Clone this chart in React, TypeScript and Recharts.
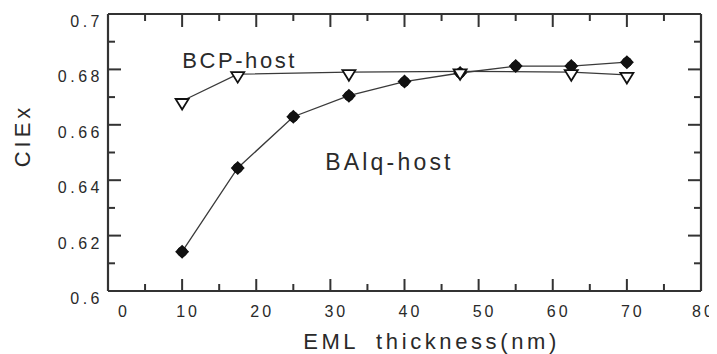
import React from 'react';
import { ComposedChart, Line, XAxis, YAxis, ReferenceDot } from 'recharts';

// ---- data ----
const balqThickness = [10, 17.5, 25, 32.5, 40, 47.5, 55, 62.5, 70];
const balqCIEx = [0.6142, 0.6444, 0.6629, 0.6705, 0.6756, 0.6787, 0.6812, 0.6812, 0.6826];
const bcpThickness = [10, 17.5, 32.5, 47.5, 62.5, 70];
const bcpCIEx = [0.6686, 0.6783, 0.679, 0.6793, 0.679, 0.678];

const xTicks = [0, 5, 10, 15, 20, 25, 30, 35, 40, 45, 50, 55, 60, 65, 70, 75, 80];
const yTicks = [0.6, 0.61, 0.62, 0.63, 0.64, 0.65, 0.66, 0.67, 0.68, 0.69, 0.7];
const yTickLabels: Record<string, string> = {
  '0.6': '0.6', '0.62': '0.62', '0.64': '0.64', '0.66': '0.66', '0.68': '0.68', '0.7': '0.7',
};

const balqData = balqThickness.map((x, i) => ({ x, y: balqCIEx[i] }));
const bcpData = bcpThickness.map((x, i) => ({ x, y: bcpCIEx[i] }));

const FONT = '"Liberation Sans", Arial, Helvetica, sans-serif';
const INK = '#2a2a2a';
const AXIS = '#333';

const isMajorX = (v: number) => Math.round(v) % 10 === 0;
const isMajorY = (v: number) => Math.round(v * 100) % 2 === 0;

const BottomTick = (props: any) => {
  const { x, y, payload } = props;
  const v = payload.value;
  const major = isMajorX(v);
  const inner = v > 0 && v < 80;
  const dx = v === 0 ? 16 : v === 80 ? 3 : 6;
  return (
    <g>
      {inner && (
        <line x1={x} x2={x} y1={y} y2={y - (major ? 12 : 7)} stroke={AXIS} strokeWidth={2} />
      )}
      {major && (
        <text x={x + dx} y={y + 26} textAnchor="middle" fill={INK}
          style={{ fontFamily: FONT, fontSize: 16, letterSpacing: 3 }}>
          {String(v)}
        </text>
      )}
    </g>
  );
};

const TopTick = (props: any) => {
  const { x, y, payload } = props;
  const v = payload.value;
  if (!(v > 0 && v < 80)) return <g />;
  return <line x1={x} x2={x} y1={y} y2={y + (isMajorX(v) ? 13 : 7)} stroke={AXIS} strokeWidth={2} />;
};

const LeftTick = (props: any) => {
  const { x, y, payload } = props;
  const v = payload.value;
  const major = isMajorY(v);
  const inner = v > 0.6001 && v < 0.6999;
  const key = String(Math.round(v * 100) / 100);
  const label = yTickLabels[key];
  return (
    <g>
      {inner && (
        <line x1={x} x2={x + (major ? 13 : 7)} y1={y} y2={y} stroke={AXIS} strokeWidth={2} />
      )}
      {major && label && (
        <text x={x - 5} y={y + 13} textAnchor="end" fill={INK}
          style={{ fontFamily: FONT, fontSize: 16, letterSpacing: 3.5 }}>
          {label}
        </text>
      )}
    </g>
  );
};

const RightTick = (props: any) => {
  const { x, y, payload } = props;
  const v = payload.value;
  if (!(v > 0.6001 && v < 0.6999)) return <g />;
  return <line x1={x} x2={x - (isMajorY(v) ? 13 : 7)} y1={y} y2={y} stroke={AXIS} strokeWidth={2} />;
};

const DiamondDot = (props: any) => {
  const { cx, cy } = props;
  if (cx == null || cy == null) return <g />;
  const s = 7;
  return (
    <g>
      <polygon points={`${cx},${cy - s} ${cx + s},${cy} ${cx},${cy + s} ${cx - s},${cy}`} fill="#111" />
      <circle cx={cx} cy={cy} r={5.2} fill="#111" />
    </g>
  );
};

const TriangleDot = (props: any) => {
  const { cx, cy } = props;
  if (cx == null || cy == null) return <g />;
  const w = 6.5;
  return (
    <polygon
      points={`${cx - w},${cy - 2} ${cx + w},${cy - 2} ${cx},${cy + 8.5}`}
      fill="#fff" stroke="#111" strokeWidth={1.8} strokeLinejoin="miter"
    />
  );
};

const textLabel = (text: string, size: number, spacing: number) => (p: any) => {
  const vb = p.viewBox || {};
  const x = (vb.x ?? 0) + (vb.width ?? 0) / 2;
  const y = (vb.y ?? 0) + (vb.height ?? 0) / 2;
  return (
    <text x={x} y={y} fill={INK} textAnchor="start"
      style={{ fontFamily: FONT, fontSize: size, letterSpacing: spacing }}>
      {text}
    </text>
  );
};

const xTitle = (p: any) => {
  const vb = p.viewBox || {};
  const cx = vb.x + vb.width / 2 + 27;
  return (
    <text x={cx} y={vb.y + 58} textAnchor="middle" fill={INK}
      style={{ fontFamily: FONT, fontSize: 22, letterSpacing: 3.6, wordSpacing: 8 }}>
      EML thickness(nm)
    </text>
  );
};

const yTitle = (p: any) => {
  const vb = p.viewBox || {};
  const cx = 22;
  const cy = vb.y + vb.height / 2 - 17;
  return (
    <text x={cx} y={cy} textAnchor="middle" fill={INK}
      transform={`rotate(-90 ${cx} ${cy})`}
      style={{ fontFamily: FONT, fontSize: 22, letterSpacing: 4 }}>
      CIEx
    </text>
  );
};

export default function App() {
  return (
    <div style={{ width: 709, height: 346, background: '#fff' }}>
      <ComposedChart width={709} height={346} margin={{ top: 0, right: 0, bottom: 0, left: 0 }}>
        <XAxis
          xAxisId={0} dataKey="x" type="number" domain={[0, 80]} ticks={xTicks} interval={0}
          allowDataOverflow orientation="bottom" height={63}
          tickSize={0} tickMargin={0} tickLine={false}
          axisLine={{ stroke: AXIS, strokeWidth: 2.2 }}
          tick={<BottomTick />} label={xTitle}
        />
        <XAxis
          xAxisId="top" dataKey="x" type="number" domain={[0, 80]} ticks={xTicks} interval={0}
          allowDataOverflow orientation="top" height={6}
          tickSize={0} tickMargin={0} tickLine={false}
          axisLine={{ stroke: AXIS, strokeWidth: 2.2 }}
          tick={<TopTick />}
        />
        <YAxis
          yAxisId={0} type="number" domain={[0.6, 0.7]} ticks={yTicks} interval={0}
          allowDataOverflow orientation="left" width={100}
          tickSize={0} tickMargin={0} tickLine={false}
          axisLine={{ stroke: AXIS, strokeWidth: 2.2 }}
          tick={<LeftTick />} label={yTitle}
        />
        <YAxis
          yAxisId="right" type="number" domain={[0.6, 0.7]} ticks={yTicks} interval={0}
          allowDataOverflow orientation="right" width={16}
          tickSize={0} tickMargin={0} tickLine={false}
          axisLine={{ stroke: AXIS, strokeWidth: 2.2 }}
          tick={<RightTick />}
        />
        <Line
          data={balqData} dataKey="y" xAxisId={0} yAxisId={0} name="BAlq-host"
          stroke="#3a3a3a" strokeWidth={1.3} dot={<DiamondDot />} activeDot={false}
          isAnimationActive={false} type="linear"
        />
        <Line
          data={bcpData} dataKey="y" xAxisId={0} yAxisId={0} name="BCP-host"
          stroke="#3a3a3a" strokeWidth={1.3} dot={<TriangleDot />} activeDot={false}
          isAnimationActive={false} type="linear"
        />
        <ReferenceDot xAxisId={0} yAxisId={0} x={10} y={0.6805} r={0.5}
          fill="none" stroke="none" label={textLabel('BCP-host', 22, 2.6)} />
        <ReferenceDot xAxisId={0} yAxisId={0} x={29.3} y={0.6437} r={0.5}
          fill="none" stroke="none" label={textLabel('BAlq-host', 23, 3.2)} />
      </ComposedChart>
    </div>
  );
}
